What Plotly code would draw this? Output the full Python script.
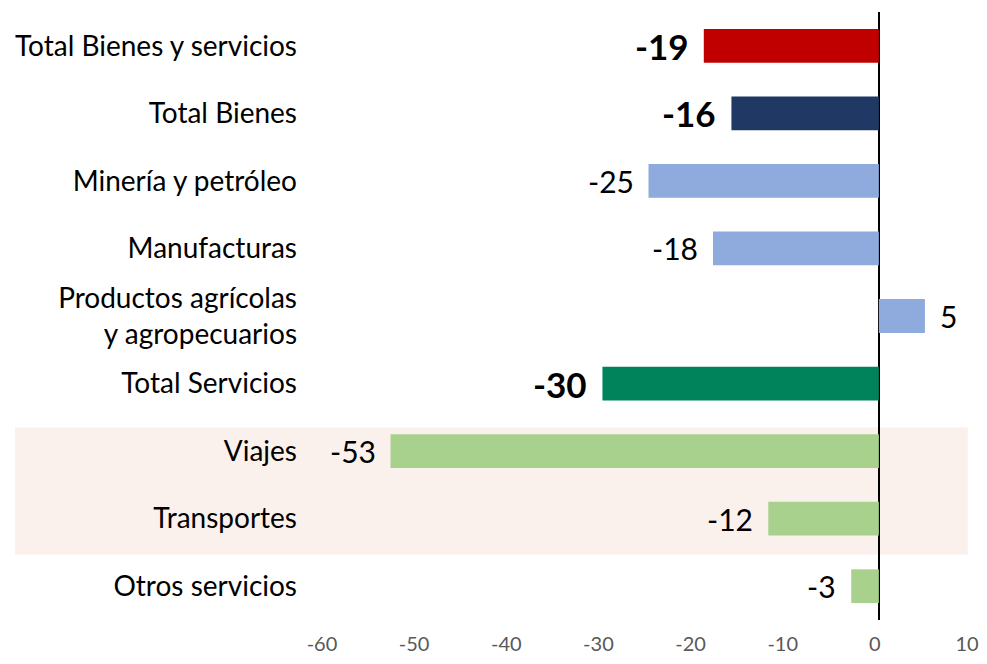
import plotly.graph_objects as go

# categories top to bottom
categories = [
    "Total Bienes y servicios",
    "Total Bienes",
    "Minería y petróleo",
    "Manufacturas",
    "Productos agrícolas<br>y agropecuarios",
    "Total Servicios",
    "Viajes",
    "Transportes",
    "Otros servicios",
]
values = [-19, -16, -25, -18, 5, -30, -53, -12, -3]
is_total = [True, True, False, False, False, True, False, False, False]
bar_colors = ["#C00000", "#203864", "#8FAADC", "#8FAADC", "#8FAADC",
              "#00825A", "#A9D18E", "#A9D18E", "#A9D18E"]
x_ticks = [-60, -50, -40, -30, -20, -10, 0, 10]

positions = list(range(len(categories)))
FONT = "Lato, Arial, sans-serif"

fig = go.Figure()

# shaded band behind Viajes / Transportes
fig.add_shape(type="rect", xref="paper", yref="y",
              x0=-0.482, x1=0.995, y0=5.65, y1=7.53,
              fillcolor="#FBF1EC", line_width=0, layer="below")

fig.add_trace(go.Bar(
    x=values, y=positions, orientation="h",
    marker=dict(color=bar_colors, line_width=0),
    width=0.5,
    hoverinfo="skip",
))

# value labels next to the bar ends
for v, p, t in zip(values, positions, is_total):
    fig.add_annotation(
        x=v, y=p, xref="x", yref="y",
        text=f"<b>{v}</b>" if t else str(v),
        showarrow=False,
        xanchor="right" if v < 0 else "left",
        xshift=-13 if v < 0 else 13,
        font=dict(family=FONT, size=35 if t else 30, color="black"),
    )

# page has an 8px body margin on every side -> keep figure inside the window
fig.update_layout(
    width=971, height=648,
    margin=dict(l=318, r=8, t=4, b=36),
    plot_bgcolor="rgba(0,0,0,0)", paper_bgcolor="white",
    showlegend=False,
    font=dict(family=FONT),
)
fig.update_xaxes(
    range=[-60, 10], tickvals=x_ticks, ticktext=[str(t) for t in x_ticks],
    showgrid=False, automargin=False,
    zeroline=True, zerolinecolor="black", zerolinewidth=1.5,
    tickfont=dict(size=20, color="#595959"),
    showline=False, ticks="", ticklabelstandoff=10, ticklabelshift=-4,
    ticklabeloverflow="allow",
)
fig.update_yaxes(
    range=[8.5, -0.5], tickvals=positions, ticktext=categories,
    showgrid=False, zeroline=False, ticks="", automargin=False,
    tickfont=dict(size=28, color="black"),
    ticklabelstandoff=28,
)

fig.write_html("out.html")
